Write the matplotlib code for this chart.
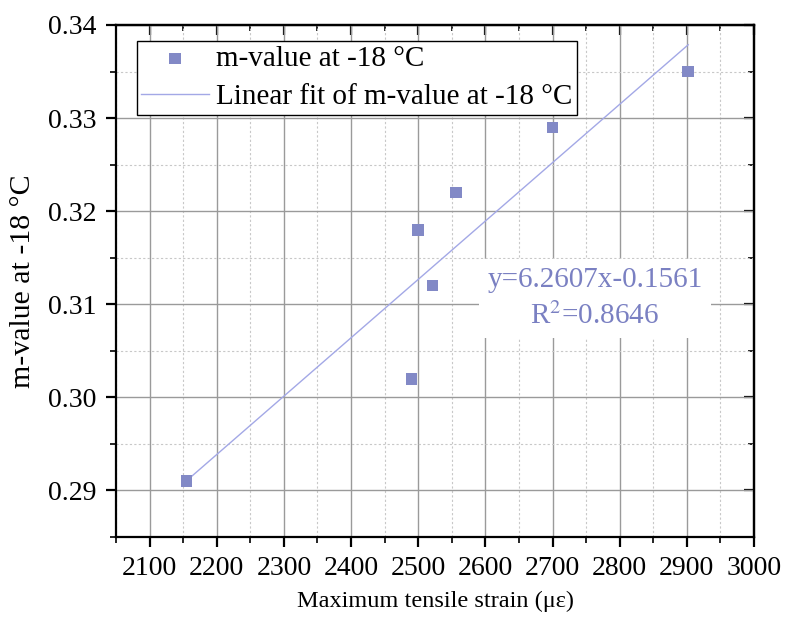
import matplotlib
matplotlib.use("Agg")
import matplotlib.pyplot as plt
from matplotlib.ticker import MultipleLocator
import numpy as np

plt.rcParams['font.family'] = ['Liberation Serif', 'DejaVu Serif']
plt.rcParams['mathtext.fontset'] = 'stix'

# data
strain = np.array([2155, 2490, 2500, 2521, 2556, 2700, 2902])
m_value = np.array([0.291, 0.302, 0.318, 0.312, 0.322, 0.329, 0.335])

x_ticks = [2100, 2200, 2300, 2400, 2500, 2600, 2700, 2800, 2900, 3000]
y_ticks = [0.29, 0.30, 0.31, 0.32, 0.33, 0.34]

pt_color = '#8289c6'
fit_color = '#a3a8e6'
txt_color = '#7a80c2'

slope, icpt = np.polyfit(strain, m_value, 1)
xf = np.array([strain.min(), strain.max()])

fig = plt.figure(figsize=(7.85, 6.17), dpi=100)
ax = fig.add_axes([0.1478, 0.1297, 0.8127, 0.8298])

ax.set_xlim(2050, 3000)
ax.set_ylim(0.285, 0.34)
ax.set_xticks(x_ticks)
ax.set_yticks(y_ticks)
ax.set_yticklabels([f'{v:.2f}' for v in y_ticks])
ax.xaxis.set_minor_locator(MultipleLocator(50))
ax.yaxis.set_minor_locator(MultipleLocator(0.005))

ax.grid(which='major', color='#9a9a9a', lw=1.0, ls='-')
ax.grid(which='minor', color='#c8c8c8', lw=0.8, ls=(0, (2, 2)))
ax.set_axisbelow(True)

ax.scatter(strain, m_value, marker='s', s=70, color=pt_color, zorder=3,
           label='m-value at -18 °C', edgecolors='none')
ax.plot(xf, slope * xf + icpt, color=fit_color, lw=1.0, zorder=2,
        label='Linear fit of m-value at -18 °C')

for s in ax.spines.values():
    s.set_linewidth(1.6)
    s.set_color('black')

ax.tick_params(which='major', direction='out', length=7, width=1.6,
               labelsize=20, top=False, right=False)
ax.tick_params(axis='x', which='major', pad=7)
ax.tick_params(axis='y', which='major', pad=7)
ax.tick_params(which='minor', direction='out', length=4, width=1.2,
               top=False, right=False)
# inward ticks on top and right
axt = ax.secondary_xaxis('top')
axt.set_xticks(x_ticks)
axt.xaxis.set_minor_locator(MultipleLocator(50))
axt.tick_params(which='major', direction='in', length=7, width=1.6, labeltop=False)
axt.tick_params(which='minor', direction='in', length=4, width=1.2)
axt.spines['top'].set_linewidth(1.6)
axr = ax.secondary_yaxis('right')
axr.set_yticks(y_ticks)
axr.yaxis.set_minor_locator(MultipleLocator(0.005))
axr.tick_params(which='major', direction='in', length=7, width=1.6, labelright=False)
axr.tick_params(which='minor', direction='in', length=4, width=1.2)
axr.spines['right'].set_linewidth(1.6)

ax.set_xlabel('Maximum tensile strain (με)', fontsize=17.5, labelpad=7)
ax.set_ylabel('m-value at -18 °C', fontsize=21.5, labelpad=9)

leg = ax.legend(loc='upper left', bbox_to_anchor=(0.033, 0.968), fontsize=21,
                frameon=True, fancybox=False, edgecolor='black',
                framealpha=1, borderpad=0.15, handlelength=2.3,
                handletextpad=0.25, labelspacing=0.4, borderaxespad=0)
leg.get_frame().set_linewidth(1.0)

ax.text(2763, 0.3106, 'y=6.2607x-0.1561\nR$^2$=0.8646', fontsize=21,
        color=txt_color, ha='center', va='center', linespacing=1.4,
        bbox=dict(facecolor='white', edgecolor='none', pad=6), zorder=4)

fig.savefig('out.png', dpi=100)
